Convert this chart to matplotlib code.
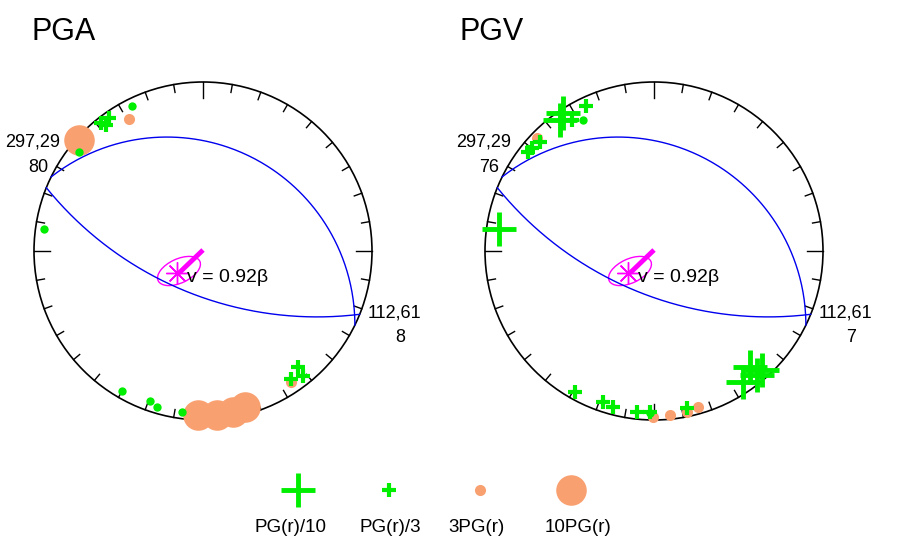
import numpy as np
import matplotlib
matplotlib.use("Agg")
import matplotlib.pyplot as plt
from matplotlib.patches import Circle, Ellipse

plt.rcParams['font.family'] = ['Liberation Sans', 'DejaVu Sans']

# === panel geometry (pixels) ===
PANELS = ["PGA", "PGV"]
CENTERS = [(203, 251), (654, 251)]
TITLE_X = [32, 459]
R = 169

# planes: strike, dip (lower hemisphere, stereographic)
PLANES = [(296, 26), (112, 61)]
LABEL_TOP = ["297,29", "297,29"]
LABEL_TOP2 = ["80", "76"]
LABEL_BOT = ["112,61", "112,61"]
LABEL_BOT2 = ["8", "7"]

# points (pixel positions)
pga_bigcross = []
pga_smallcross = [(101, 123), (109, 118), (106, 125), (298, 367), (303, 376), (291, 379)]
pga_dot = [(132, 106), (79, 152), (44, 229), (122, 391), (150, 401), (157, 407), (182, 412)]
pga_smallcirc = [(129, 119), (75, 148), (291, 382)]
pga_bigcirc = [(79, 140), (198, 415), (217, 415), (233, 412), (245, 407)]

pgv_bigcross = [(560, 120), (563, 113), (499, 229), (750, 367), (757, 375), (743, 382), (762, 370)]
pgv_smallcross = [(586, 106), (572, 120), (532, 148), (528, 152), (540, 142),
                  (575, 392), (603, 402), (613, 407), (637, 412), (650, 412), (687, 408)]
pgv_dot = [(583, 120), (650, 413)]
pgv_smallcirc = [(537, 138), (653, 417), (670, 415), (687, 412), (698, 407)]
pgv_bigcirc = []

DATA = [
    (pga_bigcross, pga_smallcross, pga_dot, pga_smallcirc, pga_bigcirc),
    (pgv_bigcross, pgv_smallcross, pgv_dot, pgv_smallcirc, pgv_bigcirc),
]

LEGEND_LABELS = ["PG(r)/10", "PG(r)/3", "3PG(r)", "10PG(r)"]
LEGEND_X = [298, 389, 480, 571]
LEGEND_LABEL_X = [291, 390, 476, 578]

GREEN = "#00ee00"
ORANGE = "#f9a070"
MAGENTA = "#ff00ff"

fig = plt.figure(figsize=(9, 5.47), dpi=100)
ax = fig.add_axes([0, 0, 1, 1])
ax.set_xlim(0, 900)
ax.set_ylim(547, 0)
ax.set_aspect("equal")
ax.axis("off")


def great_circle(strike, dip, cx, cy):
    s = np.radians(strike)
    d = np.radians(dip)
    t = np.linspace(0, np.pi, 200)
    sv = np.array([np.sin(s), np.cos(s), 0.0])
    dd = s + np.pi / 2
    dv = np.array([np.sin(dd) * np.cos(d), np.cos(dd) * np.cos(d), -np.sin(d)])
    v = np.outer(np.cos(t), sv) + np.outer(np.sin(t), dv)
    plunge = np.arcsin(np.clip(-v[:, 2], -1, 1))
    az = np.arctan2(v[:, 0], v[:, 1])
    r = np.tan((np.pi / 2 - plunge) / 2)
    return cx + R * r * np.sin(az), cy - R * r * np.cos(az)


for i, (name, (cx, cy)) in enumerate(zip(PANELS, CENTERS)):
    ax.add_patch(Circle((cx, cy), R, fill=False, ec="black", lw=1.2))
    for a in range(0, 360, 10):
        L = 16 if a % 90 == 0 else 8
        ar = np.radians(a)
        ax.plot([cx + R * np.sin(ar), cx + (R - L) * np.sin(ar)],
                [cy - R * np.cos(ar), cy - (R - L) * np.cos(ar)], color="black", lw=1)
    for st, dp in PLANES:
        x, y = great_circle(st, dp, cx, cy)
        ax.plot(x, y, color="#0000ee", lw=1)

    ax.text(TITLE_X[i], 32, name, fontsize=22, va="center")
    ax.text(cx - 198, 142, LABEL_TOP[i], fontsize=13, ha="left", va="center")
    ax.text(cx - 155, 168, LABEL_TOP2[i], fontsize=13, ha="right", va="center")
    ax.text(cx + 165, 313, LABEL_BOT[i], fontsize=13, ha="left", va="center")
    ax.text(cx + 202, 337, LABEL_BOT2[i], fontsize=13, ha="right", va="center")

    # velocity ellipse and arrow
    ex, ey = cx - 24, cy + 20
    ax.add_patch(Ellipse((ex, ey), 46, 24, angle=-25, fill=False, ec=MAGENTA, lw=1))
    ax.plot([ex, cx], [ey + 2, cy - 1], color=MAGENTA, lw=3.5, solid_capstyle="butt")
    ax.plot(ex - 2, ey + 2, marker=(8, 2, 0), ms=16, mew=1, color=MAGENTA)
    ax.text(cx - 16, cy + 27, "v = 0.92\u03b2", fontsize=14, va="center")

    bigc, smallc, dots, smallo, bigo = DATA[i]
    for pts, kw in [
        (bigo, dict(marker="o", ms=22, color=ORANGE, mew=0)),
        (smallo, dict(marker="o", ms=8, color=ORANGE, mew=0)),
        (dots, dict(marker="o", ms=6, color=GREEN, mew=0)),
        (smallc, dict(marker="+", ms=10, color=GREEN, mew=3)),
        (bigc, dict(marker="+", ms=25, color=GREEN, mew=3.5)),
    ]:
        if pts:
            xs, ys = zip(*pts)
            ax.plot(xs, ys, ls="none", **kw)

# legend
legend_kw = [
    dict(marker="+", ms=25, color=GREEN, mew=3.5),
    dict(marker="+", ms=10, color=GREEN, mew=3),
    dict(marker="o", ms=8, color=ORANGE, mew=0),
    dict(marker="o", ms=22, color=ORANGE, mew=0),
]
for x, lx, lab, kw in zip(LEGEND_X, LEGEND_LABEL_X, LEGEND_LABELS, legend_kw):
    ax.plot(x, 490, ls="none", **kw)
    ax.text(lx, 528, lab, fontsize=13.5, ha="center", va="center")

fig.savefig("out.png", dpi=100)
